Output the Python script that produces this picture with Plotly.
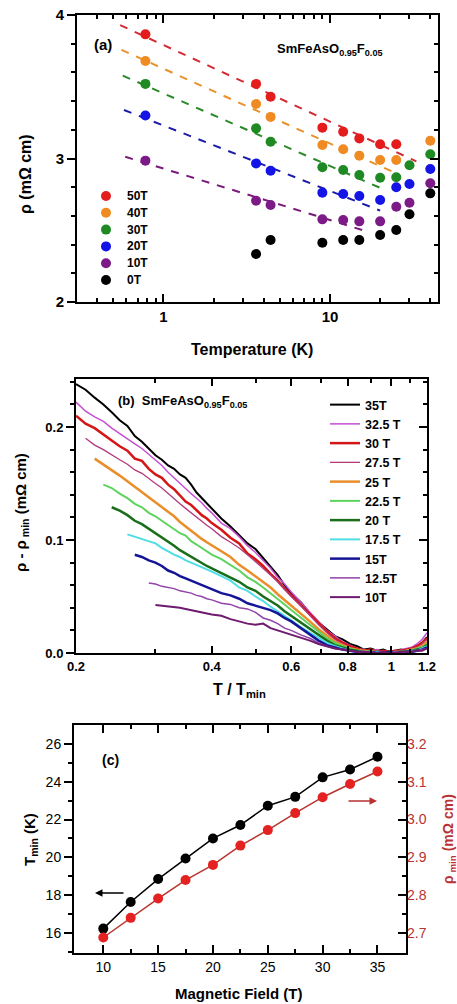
import math
import plotly.graph_objects as go

W, H = 457, 1004
FONT = "Liberation Sans"

# ---------------- Panel (a) data ----------------
temps_a = [0.78, 3.6, 4.4, 9, 12, 15, 20, 25, 30, 40]
fields_a = ["50T", "40T", "30T", "20T", "10T", "0T"]
rho_50T = [3.865, 3.52, 3.43, 3.215, 3.187, 3.14, 3.099, 3.099, None, None]
rho_40T = [3.68, 3.38, 3.29, 3.094, 3.064, 3.02, 2.99, 2.99, None, 3.124]
rho_30T = [3.52, 3.21, 3.117, 2.939, 2.92, 2.885, 2.866, 2.869, 2.953, 3.03]
rho_20T = [3.30, 2.966, 2.915, 2.762, 2.753, 2.739, 2.711, 2.80, 2.822, 2.927]
rho_10T = [2.985, 2.706, 2.676, 2.576, 2.571, 2.562, 2.562, 2.664, 2.692, 2.827]
rho_0T = [None, 2.334, 2.432, 2.413, 2.432, 2.432, 2.467, 2.502, 2.611, 2.757]
colors_a = ["#e41c1c", "#f08a22", "#1f8a24", "#1414e6", "#7c1a88", "#000000"]
dash_colors_a = ["#d42a36", "#e8922c", "#2a8a2a", "#1c1ca8", "#7a1a7a"]
# log-linear fits rho = a + b*log10(T), drawn between t_lo and t_hi
fit_a = [3.791, 3.626, 3.454, 3.230, 2.930]
fit_b = [-0.534, -0.522, -0.506, -0.456, -0.359]
fit_t_lo = [0.55, 0.56, 0.57, 0.58, 0.59]
fit_t_hi = [33, 26, 20, 20, 16]

# ---------------- Panel (b) data ----------------
t_ratio = [0.20, 0.21, 0.22, 0.23, 0.24, 0.25, 0.26, 0.27, 0.28, 0.29,
           0.30, 0.31, 0.32, 0.33, 0.34, 0.35, 0.36, 0.37, 0.38, 0.39,
           0.40, 0.42, 0.44, 0.46, 0.48, 0.50, 0.52, 0.54, 0.56, 0.58,
           0.60, 0.63, 0.66, 0.69, 0.72, 0.75, 0.78, 0.81, 0.84, 0.87,
           0.90, 0.93, 0.96, 0.99, 1.02, 1.05, 1.08, 1.11, 1.14, 1.17, 1.20]
labels_b = ["35T", "32.5 T", "30 T", "27.5 T", "25 T", "22.5 T", "20 T",
            "17.5 T", "15T", "12.5T", "10T"]
drho_35 = [0.238, 0.233, 0.226, 0.220, 0.213, 0.206, 0.201, 0.192, 0.187, 0.181,
           0.175, 0.171, 0.166, 0.163, 0.158, 0.155, 0.149, 0.142, 0.137, 0.133,
           0.128, 0.119, 0.112, 0.104, 0.097, 0.092, 0.084, 0.076, 0.069, 0.060,
           0.053, 0.045, 0.035, 0.027, 0.021, 0.015, 0.012, 0.008, 0.006, 0.003,
           0.004, 0.002, 0.003, 0.001, 0.002, 0.003, 0.002, 0.004, 0.006, 0.009, 0.014]
drho_325 = [0.222, 0.214, 0.209, 0.205, 0.199, 0.194, 0.190, 0.185, 0.181, 0.176,
            0.171, 0.166, 0.160, 0.155, 0.150, 0.145, 0.141, 0.137, 0.133, 0.128,
            0.124, 0.115, 0.110, 0.103, 0.095, 0.089, 0.082, 0.075, 0.067, 0.061,
            0.054, 0.045, 0.036, 0.028, 0.020, 0.015, 0.010, 0.007, 0.004, 0.003,
            0.002, 0.003, 0.001, 0.002, 0.001, 0.003, 0.004, 0.005, 0.008, 0.012, 0.018]
drho_30 = [0.210, 0.203, 0.199, 0.193, 0.188, 0.183, 0.179, 0.172, 0.170, 0.163,
           0.158, 0.155, 0.149, 0.145, 0.139, 0.134, 0.131, 0.126, 0.122, 0.119,
           0.115, 0.109, 0.102, 0.097, 0.088, 0.083, 0.077, 0.070, 0.064, 0.057,
           0.051, 0.043, 0.034, 0.026, 0.019, 0.013, 0.009, 0.006, 0.004, 0.002,
           0.003, 0.001, 0.002, 0.001, 0.002, 0.002, 0.003, 0.004, 0.006, 0.009, 0.013]
drho_275 = [0.190, 0.184, 0.180, 0.175, 0.171, 0.167, 0.162, 0.159, 0.154,
            0.150, 0.146, 0.141, 0.137, 0.132, 0.128, 0.124, 0.120, 0.116, 0.113,
            0.110, 0.103, 0.098, 0.093, 0.087, 0.081, 0.075, 0.069, 0.063, 0.056,
            0.050, 0.042, 0.033, 0.025, 0.018, 0.012, 0.008, 0.005, 0.003, 0.002,
            0.001, 0.002, 0.001, 0.000, 0.001, 0.002, 0.002, 0.004, 0.005, 0.008, 0.012]
drho_25 = [0.172, 0.167, 0.162, 0.157, 0.152, 0.147, 0.142, 0.138,
           0.133, 0.129, 0.125, 0.121, 0.116, 0.112, 0.108, 0.105, 0.101, 0.098,
           0.095, 0.090, 0.085, 0.078, 0.073, 0.068, 0.063, 0.058, 0.052, 0.047,
           0.042, 0.035, 0.028, 0.021, 0.015, 0.010, 0.007, 0.004, 0.003, 0.002,
           0.001, 0.001, 0.000, 0.001, 0.000, 0.001, 0.002, 0.003, 0.004, 0.006, 0.010]
drho_225 = [0.149, 0.146, 0.141, 0.137, 0.132, 0.129, 0.124,
            0.121, 0.117, 0.113, 0.109, 0.106, 0.104, 0.099, 0.096, 0.093, 0.090,
            0.087, 0.083, 0.078, 0.073, 0.067, 0.063, 0.058, 0.053, 0.048, 0.043,
            0.038, 0.031, 0.025, 0.019, 0.013, 0.009, 0.006, 0.004, 0.002, 0.001,
            0.002, 0.000, 0.001, 0.000, 0.001, 0.001, 0.002, 0.002, 0.004, 0.005, 0.008]
drho_20 = [0.129, 0.126, 0.122, 0.117, 0.114, 0.110,
           0.106, 0.102, 0.098, 0.095, 0.091, 0.088, 0.085, 0.082, 0.079, 0.077,
           0.075, 0.071, 0.067, 0.063, 0.058, 0.055, 0.050, 0.046, 0.042, 0.037,
           0.033, 0.027, 0.021, 0.016, 0.011, 0.007, 0.005, 0.003, 0.002, 0.001,
           0.000, 0.001, 0.000, 0.001, 0.000, 0.001, 0.001, 0.002, 0.003, 0.004, 0.007]
drho_175 = [0.105, 0.103, 0.101, 0.099,
            0.097, 0.093, 0.090, 0.087, 0.085, 0.082, 0.080, 0.078, 0.076, 0.074,
            0.072, 0.068, 0.064, 0.058, 0.055, 0.050, 0.046, 0.041, 0.037, 0.033,
            0.029, 0.023, 0.018, 0.013, 0.009, 0.006, 0.004, 0.002, 0.001, 0.001,
            0.000, 0.001, 0.000, 0.000, 0.001, 0.000, 0.001, 0.002, 0.002, 0.004, 0.006]
drho_15 = [0.087, 0.085, 0.082,
           0.080, 0.077, 0.073, 0.071, 0.068, 0.066, 0.064, 0.062, 0.060, 0.058,
           0.056, 0.053, 0.051, 0.048, 0.044, 0.042, 0.040, 0.038, 0.035, 0.031,
           0.028, 0.022, 0.016, 0.011, 0.007, 0.005, 0.003, 0.002, 0.001, 0.000,
           0.001, 0.000, 0.000, 0.001, 0.000, 0.000, 0.001, 0.001, 0.002, 0.003, 0.005]
drho_125 = [0.062,
            0.061, 0.059, 0.058, 0.057, 0.055, 0.054, 0.053, 0.051, 0.050, 0.048,
            0.047, 0.044, 0.043, 0.040, 0.039, 0.036, 0.031, 0.029, 0.026, 0.022,
            0.020, 0.016, 0.013, 0.009, 0.006, 0.004, 0.003, 0.002, 0.001, 0.000,
            0.001, 0.000, 0.000, 0.000, 0.001, 0.000, 0.001, 0.001, 0.002, 0.003, 0.004]
drho_10 = [0.0425, 0.042, 0.041, 0.041, 0.040, 0.039, 0.038, 0.037, 0.036, 0.035,
           0.034, 0.033, 0.030, 0.028, 0.026, 0.025, 0.026, 0.022, 0.020, 0.018,
           0.016, 0.014, 0.011, 0.008, 0.006, 0.004, 0.003, 0.002, 0.001, 0.001,
           0.000, 0.000, 0.001, 0.000, 0.000, 0.001, 0.001, 0.001, 0.002, 0.002, 0.004]
colors_b = ["#000000", "#c64fd2", "#d41616", "#b03a7c", "#ea8e2a", "#5ed35e",
            "#1a6e1a", "#4fdde6", "#141496", "#9243aa", "#6e1a6e"]
widths_b = [2, 1.5, 2.5, 1.3, 2.5, 2, 2.5, 2, 2.5, 1.5, 2]

# ---------------- Panel (c) data ----------------
field_c = [10, 12.5, 15, 17.5, 20, 22.5, 25, 27.5, 30, 32.5, 35]
tmin_c = [16.23, 17.64, 18.85, 19.94, 21.0, 21.71, 22.73, 23.2, 24.23, 24.65, 25.32]
rhomin_c = [2.688, 2.740, 2.791, 2.840, 2.880, 2.931, 2.972, 3.017, 3.059, 3.094, 3.127]


def dom_x(a, b):
    return [a / W, b / W]


def dom_y(top, bot):
    return [1 - bot / H, 1 - top / H]


def px(x):
    return x / W


def py(y):
    return 1 - y / H


fig = go.Figure()

# ---- panel a ----
for i in range(len(fit_a)):
    ts = [fit_t_lo[i], fit_t_hi[i]]
    ys = [fit_a[i] + fit_b[i] * math.log10(t) for t in ts]
    fig.add_trace(go.Scatter(x=ts, y=ys, mode="lines", xaxis="x", yaxis="y",
                             line=dict(color=dash_colors_a[i], width=2, dash="8px,8px"),
                             showlegend=False, hoverinfo="skip"))
series_a = [rho_50T, rho_40T, rho_30T, rho_20T, rho_10T, rho_0T]
for name, ys, c in zip(fields_a, series_a, colors_a):
    fig.add_trace(go.Scatter(x=temps_a, y=ys, mode="markers", name=name,
                             xaxis="x", yaxis="y", showlegend=False,
                             marker=dict(color=c, size=10, line=dict(width=0))))
fig.add_trace(go.Scatter(x=[], y=[], xaxis="x", yaxis="y4", showlegend=False))

# ---- panel b ----
series_b = [drho_35, drho_325, drho_30, drho_275, drho_25, drho_225, drho_20,
            drho_175, drho_15, drho_125, drho_10]
for name, ys, c, w in zip(labels_b, series_b, colors_b, widths_b):
    xs = t_ratio[len(t_ratio) - len(ys):]
    fig.add_trace(go.Scatter(x=xs, y=ys, mode="lines", name=name,
                             xaxis="x2", yaxis="y2", legend="legend",
                             line=dict(color=c, width=w)))
fig.add_trace(go.Scatter(x=[], y=[], xaxis="x2", yaxis="y5", showlegend=False))

# ---- panel c ----
fig.add_trace(go.Scatter(x=field_c, y=tmin_c, mode="lines+markers", xaxis="x3", yaxis="y3",
                         line=dict(color="black", width=1.5),
                         marker=dict(color="black", size=10), showlegend=False))
fig.add_trace(go.Scatter(x=field_c, y=rhomin_c, mode="lines+markers", xaxis="x3", yaxis="y6",
                         line=dict(color="#b8342c", width=1.5),
                         marker=dict(color="#e42222", size=10), showlegend=False))

RED = "#b83232"


def base(size, bold=True, color="black"):
    f = dict(family=FONT, size=size, color=color)
    if bold:
        f["weight"] = "bold"
    return f


common = dict(showline=True, linecolor="black", linewidth=2, showgrid=False,
              zeroline=False, tickcolor="black", tickwidth=1.5, automargin=False)
right_common = dict(showline=False, showgrid=False, zeroline=False, tickcolor="black",
                    tickwidth=1.5, automargin=False, side="right")

layout_axes = dict(
    xaxis=dict(common, domain=dom_x(77, 438), anchor="y", type="log",
               range=[math.log10(0.303), math.log10(44.5)],
               tickvals=[1, 10], ticktext=["1", "10"], ticks="inside", ticklen=8,
               mirror="ticks", tickfont=base(15),
               minor=dict(tickvals=[0.4, 0.5, 0.6, 0.7, 0.8, 0.9, 2, 3, 4, 5, 6, 7, 8, 9, 20, 30, 40],
                          ticks="inside", ticklen=4, tickcolor="black", tickwidth=1.5)),
    yaxis=dict(common, domain=dom_y(15, 302), anchor="x", range=[2, 4],
               tickvals=[2, 3, 4], ticktext=["2", "3", "4"], ticks="outside", ticklen=8,
               mirror=True, tickfont=base(15),
               minor=dict(tick0=2, dtick=0.2, ticks="outside", ticklen=4, tickcolor="black", tickwidth=1.5)),
    yaxis4=dict(right_common, overlaying="y", anchor="x", range=[2, 4],
                tickvals=[2, 3, 4], ticks="inside", ticklen=8, showticklabels=False,
                minor=dict(tick0=2, dtick=0.2, ticks="inside", ticklen=4, tickcolor="black", tickwidth=1.5)),
    xaxis2=dict(common, domain=dom_x(76, 427), anchor="y2", type="log",
                range=[math.log10(0.2), math.log10(1.2)],
                tickvals=[0.2, 0.4, 0.6, 0.8, 1, 1.2], ticktext=["0.2", "0.4", "0.6", "0.8", "1", "1.2"],
                ticks="inside", ticklen=7, mirror="ticks", tickfont=base(13),
                minor=dict(tickvals=[0.3, 0.5, 0.7, 0.9, 1.1], ticks="inside", ticklen=4,
                           tickcolor="black", tickwidth=1.5)),
    yaxis2=dict(common, domain=dom_y(379, 653), anchor="x2", range=[0, 0.2425],
                tickvals=[0, 0.1, 0.2], ticktext=["0.0", "0.1", "0.2"], ticks="outside", ticklen=8,
                mirror=True, tickfont=base(13),
                minor=dict(tick0=0, dtick=0.02, ticks="outside", ticklen=4, tickcolor="black", tickwidth=1.5)),
    yaxis5=dict(right_common, overlaying="y2", anchor="x2", range=[0, 0.2425],
                tickvals=[0, 0.1, 0.2], ticks="inside", ticklen=8, showticklabels=False,
                minor=dict(tick0=0, dtick=0.02, ticks="inside", ticklen=4, tickcolor="black", tickwidth=1.5)),
    xaxis3=dict(common, domain=dom_x(74, 406), anchor="y3", range=[7.33, 37.6],
                tickvals=[10, 15, 20, 25, 30, 35], ticks="inside", ticklen=8, mirror="ticks",
                tickfont=base(14, bold=False),
                minor=dict(tickvals=[12.5, 17.5, 22.5, 27.5, 32.5], ticks="inside", ticklen=4,
                           tickcolor="black", tickwidth=1.5)),
    yaxis3=dict(common, domain=dom_y(725, 953), anchor="x3", range=[14.94, 27.0],
                tickvals=[16, 18, 20, 22, 24, 26], ticks="outside", ticklen=8, mirror=True,
                tickfont=base(14, bold=False),
                minor=dict(tickvals=[15, 17, 19, 21, 23, 25], ticks="outside", ticklen=4,
                           tickcolor="black", tickwidth=1.5)),
    yaxis6=dict(right_common, overlaying="y3", anchor="x3", range=[2.647, 3.25],
                tickvals=[2.7, 2.8, 2.9, 3.0, 3.1, 3.2], ticktext=["2.7", "2.8", "2.9", "3.0", "3.1", "3.2"],
                ticks="inside", ticklen=8,
                tickfont=base(14, bold=False, color=RED),
                minor=dict(tickvals=[2.75, 2.85, 2.95, 3.05, 3.15], ticks="inside", ticklen=4,
                           tickcolor="black", tickwidth=1.5)),
)


def ann(x, y, text, size, bold=True, color="black", angle=0, xanchor="center"):
    return dict(x=px(x), y=py(y), xref="paper", yref="paper", text=text, showarrow=False,
                font=base(size, bold, color), textangle=angle, xanchor=xanchor, yanchor="middle")


sub = "SmFeAsO<sub>0.95</sub>F<sub>0.05</sub>"
annotations = [
    ann(25, 174, "ρ (mΩ cm)", 16, angle=-90),
    ann(252, 349, "Temperature (K)", 16),
    ann(103, 45, "(a)", 15),
    ann(330, 50, sub, 13),
    ann(21, 513, "ρ - ρ<sub> min</sub> (mΩ cm)", 15, angle=-90),
    ann(240, 690, "T / T<sub>min</sub>", 16),
    ann(116, 401, "(b)  " + sub, 13, xanchor="left"),
    ann(110, 760, "(c)", 14),
    ann(30, 839, "T<sub>min</sub> (K)", 15, angle=-90),
    ann(449, 839, "ρ<sub> min</sub> (mΩ cm)", 14, color=RED, angle=-90),
    ann(239, 993, "Magnetic Field (T)", 15),
    dict(x=px(95), y=py(893), xref="paper", yref="paper", text="", showarrow=True,
         ax=30, ay=0, arrowhead=2, arrowsize=1, arrowwidth=1.5, arrowcolor="black"),
    dict(x=px(377), y=py(801), xref="paper", yref="paper", text="", showarrow=True,
         ax=-30, ay=0, arrowhead=2, arrowsize=1, arrowwidth=1.5, arrowcolor=RED),
]

# manual legend for panel (a): circle markers + labels
legend_a_rows = [196, 212.8, 229.6, 246.4, 263.2, 280]
shapes = []
for name, c, yrow in zip(fields_a, colors_a, legend_a_rows):
    shapes.append(dict(type="circle", xref="paper", yref="paper",
                       xsizemode="pixel", ysizemode="pixel",
                       xanchor=px(106), yanchor=py(yrow),
                       x0=-5, x1=5, y0=-5, y1=5,
                       fillcolor=c, line=dict(width=0)))
    annotations.append(ann(125, yrow, name, 12, xanchor="left"))

fig.update_layout(
    width=W, height=H, margin=dict(l=0, r=0, t=0, b=0, autoexpand=False),
    paper_bgcolor="white", plot_bgcolor="white",
    font=dict(family=FONT, color="black"),
    annotations=annotations, shapes=shapes,
    legend=dict(x=px(325), y=py(390), xanchor="left", yanchor="top",
                font=base(12.5), bgcolor="rgba(0,0,0,0)", borderwidth=0,
                tracegroupgap=0),
    **layout_axes,
)

fig.write_html("out.html", config={"displayModeBar": False},
               post_script="document.body.style.margin='0';document.body.style.overflow='hidden';")
